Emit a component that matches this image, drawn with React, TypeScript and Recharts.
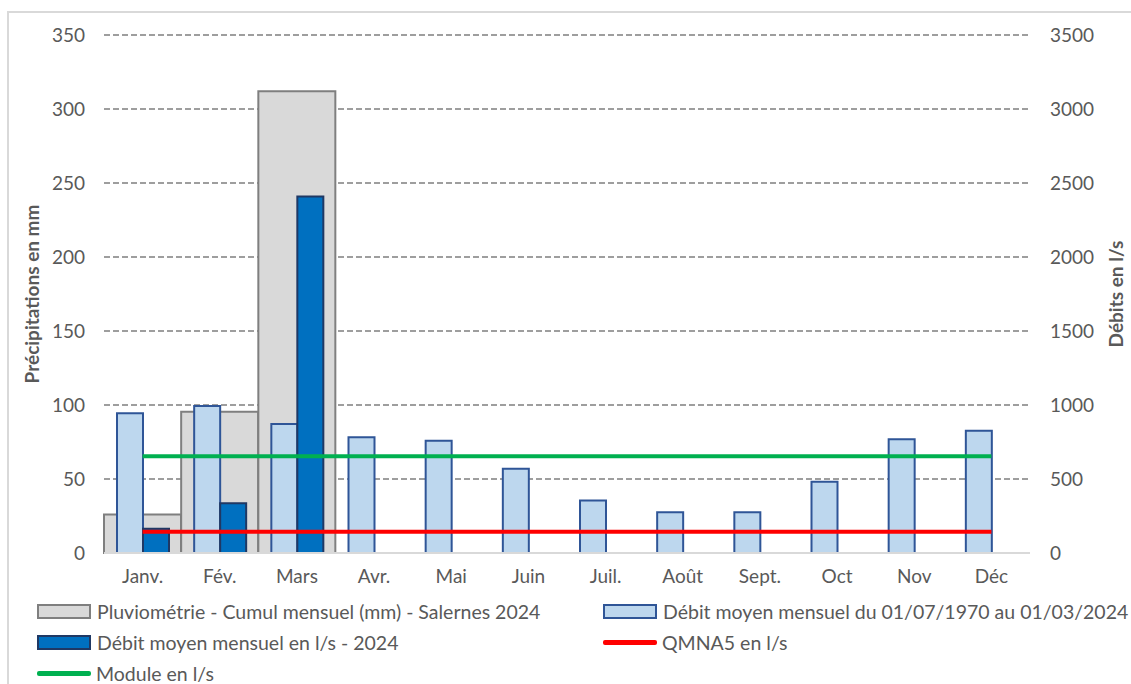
import {
  Bar,
  CartesianGrid,
  ComposedChart,
  Line,
  XAxis,
  YAxis,
} from "recharts";

const months = ["Janv.", "Fév.", "Mars", "Avr.", "Mai", "Juin", "Juil.", "Août", "Sept.", "Oct", "Nov", "Déc"];
// pluviométrie en mm (seulement jan-mars 2024)
const rain = [26, 95.5, 312, null, null, null, null, null, null, null, null, null];
// débit moyen mensuel historique 1970-2024, l/s
const flowMean = [944, 993, 872, 782, 759, 570, 354, 275, 275, 482, 768, 826];
// débit moyen mensuel 2024, l/s
const flow2024 = [164, 336, 2408, null, null, null, null, null, null, null, null, null];
const qmna5 = [144, 144, 144, 144, 144, 144, 144, 144, 144, 144, 144, 144];
const moduleFlow = [653, 653, 653, 653, 653, 653, 653, 653, 653, 653, 653, 653];

const leftTicks = [0, 50, 100, 150, 200, 250, 300, 350];
const rightTicks = [0, 500, 1000, 1500, 2000, 2500, 3000, 3500];

const data = months.map((m, i) => ({
  month: m,
  rain: rain[i],
  flowMean: flowMean[i],
  flow2024: flow2024[i],
  qmna5: qmna5[i],
  module: moduleFlow[i],
}));

const FONT = "Lato, 'Open Sans', sans-serif";
const TEXT = "#595959";

type LegendItem = { label: string; kind: "bar" | "line"; fill?: string; stroke: string };

const legendItems: LegendItem[] = [
  { label: "Pluviométrie - Cumul mensuel (mm) - Salernes 2024", kind: "bar", fill: "#D9D9D9", stroke: "#7F7F7F" },
  { label: "Débit moyen mensuel du 01/07/1970 au 01/03/2024", kind: "bar", fill: "#BDD7EE", stroke: "#2F5597" },
  { label: "Débit moyen mensuel en l/s - 2024", kind: "bar", fill: "#0070C0", stroke: "#1F3864" },
  { label: "QMNA5 en l/s", kind: "line", stroke: "#FF0000" },
  { label: "Module en l/s", kind: "line", stroke: "#00B050" },
];

function ChartLegend() {
  return (
    <div style={{ position: "absolute", left: 0, top: 596, width: 1131, fontFamily: FONT, fontSize: 19.5, color: TEXT }}>
      {legendItems.map((it, i) => (
        <div
          key={it.label}
          style={{
            position: "absolute",
            left: i % 2 === 0 ? 37 : 603,
            top: Math.floor(i / 2) * 31,
            height: 30,
            display: "flex",
            alignItems: "center",
            whiteSpace: "nowrap",
          }}
        >
          {it.kind === "bar" ? (
            <span style={{ width: 50, height: 11, background: it.fill, border: `2px solid ${it.stroke}`, marginRight: 6 }} />
          ) : (
            <span style={{ width: 54, height: 5, background: it.stroke, borderRadius: 2, marginRight: 5 }} />
          )}
          <span>{it.label}</span>
        </div>
      ))}
    </div>
  );
}

export default function App() {
  const tick = { fontSize: 19, fill: TEXT, fontFamily: FONT };
  const title = { fontSize: 19, fontWeight: 700, fill: TEXT, fontFamily: FONT };
  return (
    <div style={{ position: "absolute", left: 0, top: 0, width: 1131, height: 684, overflow: "hidden", background: "#fff" }}>
      <div style={{ position: "absolute", left: 7, top: 11, width: 1140, height: 700, border: "2px solid #d9d9d9" }} />
      <ComposedChart
        width={1131}
        height={684}
        data={data}
        margin={{ top: 35, right: 0, bottom: 91, left: 0 }}
        barCategoryGap={0}
        barGap={0}
        style={{ position: "absolute", left: 0, top: 0 }}
      >
        <CartesianGrid xAxisId="b" yAxisId="left" vertical={false} stroke="#7F7F7F" strokeWidth={1.5} strokeDasharray="6 3" />
        <XAxis
          xAxisId="b"
          dataKey="month"
          height={40}
          tickLine={false}
          tickSize={0}
          tickMargin={17}
          axisLine={{ stroke: "#D9D9D9", strokeWidth: 2 }}
          tick={tick}
          interval={0}
        />
        <XAxis xAxisId="g" dataKey="month" hide />
        <YAxis
          yAxisId="left"
          width={104}
          domain={[0, 350]}
          ticks={leftTicks}
          axisLine={false}
          tickLine={false}
          tickSize={0}
          tickMargin={19}
          tick={tick}
          label={{ value: "Précipitations en mm", angle: -90, position: "center", dx: -20, style: title }}
        />
        <YAxis
          yAxisId="right"
          orientation="right"
          width={101}
          domain={[0, 3500]}
          ticks={rightTicks}
          axisLine={false}
          tickLine={false}
          tickSize={0}
          tickMargin={20}
          tick={tick}
          label={{ value: "Débits en l/s", angle: -90, position: "center", dx: 36, style: title }}
        />
        <Bar
          xAxisId="g"
          yAxisId="left"
          dataKey="rain"
          fill="#D9D9D9"
          stroke="#7F7F7F"
          strokeWidth={2}
          isAnimationActive={false}
        />
        <Bar
          xAxisId="b"
          yAxisId="right"
          dataKey="flowMean"
          barSize={26}
          fill="#BDD7EE"
          stroke="#2F5597"
          strokeWidth={2}
          isAnimationActive={false}
        />
        <Bar
          xAxisId="b"
          yAxisId="right"
          dataKey="flow2024"
          barSize={26}
          fill="#0070C0"
          stroke="#1F3864"
          strokeWidth={2}
          isAnimationActive={false}
        />
        <Line
          xAxisId="b"
          yAxisId="right"
          dataKey="qmna5"
          type="linear"
          stroke="#FF0000"
          strokeWidth={4}
          dot={false}
          isAnimationActive={false}
        />
        <Line
          xAxisId="b"
          yAxisId="right"
          dataKey="module"
          type="linear"
          stroke="#00B050"
          strokeWidth={4}
          dot={false}
          isAnimationActive={false}
        />
      </ComposedChart>
      <ChartLegend />
    </div>
  );
}
